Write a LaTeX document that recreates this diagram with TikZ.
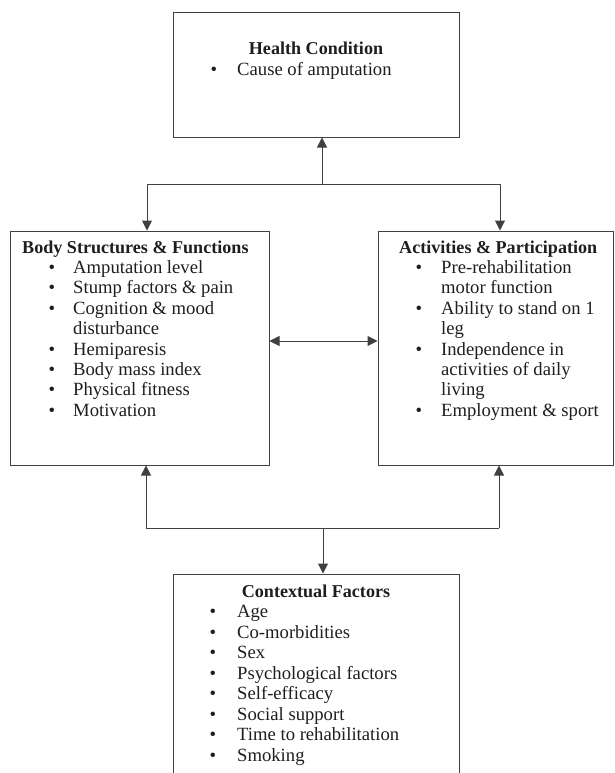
\documentclass[tikz,border=0pt]{standalone}
\usepackage{fontspec}
\setmainfont{Liberation Serif}
\usetikzlibrary{arrows.meta}
\definecolor{linec}{HTML}{404040}
\definecolor{txtc}{HTML}{1E1E1E}
\newlength\reflen
\begin{document}
\settowidth\reflen{\fontsize{10pt}{12pt}\selectfont Time to rehabilitation}%
\pgfmathsetmacro\fsz{10*162/\reflen}%
\pgfmathsetmacro\tsz{0.97*\fsz}%
\begin{tikzpicture}[x=1pt,y=-1pt]
\tikzset{
  panel/.style={draw=linec, line width=1pt, inner sep=0pt},
  con/.style={draw=linec, line width=1pt},
  arrowline/.style={con, -{Triangle[length=10pt,width=10pt]}},
  darrow/.style={con, {Triangle[length=10pt,width=10pt]}-{Triangle[length=10pt,width=10pt]}},
  txt/.style={anchor=base west, inner sep=0pt, text=txtc, font=\fontsize{\fsz pt}{20.4pt}\selectfont},
  bul/.style={anchor=base, inner sep=0pt, text=txtc, font=\fontsize{\fsz pt}{20.4pt}\selectfont},
  ttl/.style={inner sep=0pt, text=txtc, font=\fontsize{\tsz pt}{20.4pt}\selectfont\bfseries},
}
\path[use as bounding box, clip] (0,0) rectangle (614,773);

% boxes
\node[panel, minimum width=286pt, minimum height=124.5pt] (top) at (316,74.75) {};
\node[panel, minimum width=259pt, minimum height=234pt] (left) at (139.5,348) {};
\node[panel, minimum width=235pt, minimum height=234pt] (right) at (495.5,348) {};
\node[panel, minimum width=286pt, minimum height=220pt] (bottom) at (316,684) {};

% top box text
\node[ttl, anchor=base] (ttop) at (316,55) {Health Condition};
\node[bul] (TB1) at (214,76) {•};
\node[txt] (T1) at (237,76) {Cause of amputation};

% left box text
\node[ttl, anchor=base west] (tleft) at (22,253) {Body Structures \& Functions};
\foreach \b/\t [count=\i] in {1/Amputation level, 1/Stump factors \& pain, 1/Cognition \& mood, 0/disturbance, 1/Hemiparesis, 1/Body mass index, 1/Physical fitness, 1/Motivation}{
  \node[txt] (L\i) at (73,253+\i*20.4) {\t};
  \ifnum\b=1 \node[bul] (LB\i) at (52,253+\i*20.4) {•};\fi
}

% right box text
\node[ttl, anchor=base west] (tright) at (399,253) {Activities \& Participation};
\foreach \b/\t [count=\i] in {1/Pre-rehabilitation, 0/motor function, 1/Ability to stand on 1, 0/leg, 1/Independence in, 0/activities of daily, 0/living, 1/Employment \& sport}{
  \node[txt] (R\i) at (441,253+\i*20.4) {\t};
  \ifnum\b=1 \node[bul] (RB\i) at (419,253+\i*20.4) {•};\fi
}

% bottom box text
\node[ttl, anchor=base] (tbottom) at (316,597) {Contextual Factors};
\foreach \t [count=\i] in {Age, Co-morbidities, Sex, Psychological factors, Self-efficacy, Social support, Time to rehabilitation, Smoking}{
  \node[txt] (B\i) at (237,597+\i*20.5) {\t};
  \node[bul] (BB\i) at (213,597+\i*20.5) {•};
}

% connectors top
\coordinate (jt) at (322,184);
\coordinate (jtl) at (147,184);
\coordinate (jtr) at (500,184);
\draw[con] (jtl) -- (jtr);
\draw[arrowline] (jt) -- (jt |- top.south);
\draw[arrowline] (jtl) -- (jtl |- left.north);
\draw[arrowline] (jtr) -- (jtr |- right.north);

% middle
\coordinate (m) at (323,341);
\draw[darrow] (left.east |- m) -- (right.west |- m);

% connectors bottom
\coordinate (jb) at (323,528);
\coordinate (jbl) at (146,528);
\coordinate (jbr) at (499,528);
\draw[con] (jbl) -- (jbr);
\draw[arrowline] (jbl) -- (jbl |- left.south);
\draw[arrowline] (jbr) -- (jbr |- right.south);
\draw[arrowline] (jb) -- (jb |- bottom.north);
\end{tikzpicture}
\end{document}
